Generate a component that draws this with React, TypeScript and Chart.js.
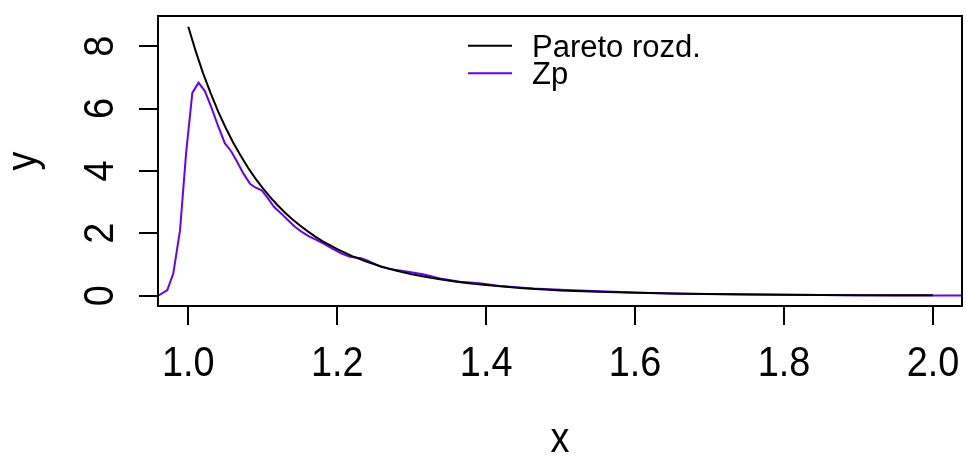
import React, { useEffect, useRef } from "react";
import { Chart, registerables } from "chart.js";

Chart.register(...registerables);

// Pareto density
const paretoX = [1.0, 1.01, 1.02, 1.03, 1.04, 1.05, 1.06, 1.07, 1.08, 1.09, 1.1, 1.11, 1.12, 1.13, 1.14, 1.15, 1.16, 1.17, 1.18, 1.19, 1.2, 1.22, 1.24, 1.26, 1.28, 1.3, 1.32, 1.34, 1.36, 1.38, 1.4, 1.45, 1.5, 1.55, 1.6, 1.65, 1.7, 1.8, 1.9, 2.0];
const paretoY = [8.62, 7.83, 7.12, 6.49, 5.91, 5.39, 4.92, 4.5, 4.11, 3.76, 3.45, 3.16, 2.9, 2.66, 2.44, 2.25, 2.07, 1.9, 1.75, 1.62, 1.49, 1.27, 1.09, 0.93, 0.8, 0.69, 0.6, 0.52, 0.45, 0.39, 0.34, 0.24, 0.17, 0.13, 0.094, 0.07, 0.052, 0.03, 0.018, 0.011];

const zpX = [0.9597, 0.9718, 0.9799, 0.9889, 0.997, 1.0054, 1.0137, 1.0224, 1.0312, 1.04, 1.049, 1.0575, 1.065, 1.0739, 1.0829, 1.09, 1.0986, 1.107, 1.115, 1.125, 1.134, 1.143, 1.153, 1.162, 1.172, 1.183, 1.194, 1.206, 1.217, 1.232, 1.241, 1.257, 1.27, 1.297, 1.315, 1.338, 1.365, 1.391, 1.418, 1.463, 1.508, 1.552, 1.6, 1.66, 1.75, 1.85, 1.95, 2.039];
const zpY = [0.0, 0.18, 0.72, 2.1, 4.56, 6.5, 6.83, 6.55, 6.02, 5.44, 4.89, 4.63, 4.32, 3.92, 3.59, 3.47, 3.38, 3.12, 2.85, 2.63, 2.42, 2.21, 2.04, 1.9, 1.79, 1.65, 1.5, 1.35, 1.25, 1.2, 1.12, 0.94, 0.86, 0.76, 0.69, 0.55, 0.45, 0.4, 0.31, 0.23, 0.18, 0.14, 0.1, 0.06, 0.035, 0.02, 0.01, 0.005];

const xTicks = [1.0, 1.2, 1.4, 1.6, 1.8, 2.0];
const xTickLabels = ["1.0", "1.2", "1.4", "1.6", "1.8", "2.0"];
const yTicks = [0, 2, 4, 6, 8];
const yTickLabels = ["0", "2", "4", "6", "8"];
const seriesNames = ["Pareto rozd.", "Zp"];
const seriesColors = ["#000000", "#6400FF"];
const xTitle = "x";
const yTitle = "y";

const FONT = '"Liberation Sans", Arial, Helvetica, sans-serif';

const rPlot = {
  id: "rPlot",
  afterDraw(chart: any) {
    const ctx = chart.ctx as CanvasRenderingContext2D;
    const a = chart.chartArea;
    const xs = chart.scales.x;
    const ys = chart.scales.y;
    ctx.save();
    ctx.strokeStyle = "#000";
    ctx.fillStyle = "#000";
    ctx.lineWidth = 2;
    // box
    ctx.strokeRect(a.left, a.top, a.right - a.left, a.bottom - a.top);
    const tickLen = 19;
    // x ticks
    ctx.beginPath();
    xTicks.forEach((v) => {
      const px = Math.round(xs.getPixelForValue(v));
      ctx.moveTo(px, a.bottom);
      ctx.lineTo(px, a.bottom + tickLen);
    });
    // y ticks
    yTicks.forEach((v) => {
      const py = Math.round(ys.getPixelForValue(v));
      ctx.moveTo(a.left, py);
      ctx.lineTo(a.left - tickLen, py);
    });
    ctx.stroke();

    const axFont = `43px ${FONT}`;
    const sx = 0.88;
    ctx.font = axFont;
    ctx.textAlign = "center";
    ctx.textBaseline = "alphabetic";
    xTicks.forEach((v, i) => {
      const px = xs.getPixelForValue(v);
      ctx.save();
      ctx.translate(px, 376);
      ctx.scale(sx, 1);
      ctx.fillText(xTickLabels[i], 0, 0);
      ctx.restore();
    });
    yTicks.forEach((v, i) => {
      const py = ys.getPixelForValue(v);
      ctx.save();
      ctx.translate(113, py);
      ctx.rotate(-Math.PI / 2);
      ctx.scale(sx, 1);
      ctx.fillText(yTickLabels[i], 0, 0);
      ctx.restore();
    });
    // axis titles
    ctx.save();
    ctx.translate((a.left + a.right) / 2, 452);
    ctx.scale(sx, 1);
    ctx.fillText(xTitle, 0, 0);
    ctx.restore();
    ctx.save();
    ctx.translate(36, (a.top + a.bottom) / 2);
    ctx.rotate(-Math.PI / 2);
    ctx.scale(sx, 1);
    ctx.fillText(yTitle, 0, 0);
    ctx.restore();

    // legend
    const legLineX0 = 468;
    const legLineX1 = 512;
    const legTextX = 532;
    const legY = [45.7, 73.3];
    ctx.font = `31px ${FONT}`;
    ctx.textAlign = "left";
    seriesNames.forEach((name, i) => {
      ctx.strokeStyle = seriesColors[i];
      ctx.lineWidth = 2;
      ctx.beginPath();
      ctx.moveTo(legLineX0, legY[i]);
      ctx.lineTo(legLineX1, legY[i]);
      ctx.stroke();
      ctx.fillStyle = "#000";
      ctx.fillText(name, legTextX, legY[i] + 11);
    });
    ctx.restore();
  },
};

export default function App() {
  const ref = useRef<HTMLCanvasElement | null>(null);
  useEffect(() => {
    if (!ref.current) return;
    const chart = new Chart(ref.current, {
      type: "line",
      data: {
        datasets: [
          {
            label: seriesNames[0],
            data: paretoX.map((x, i) => ({ x, y: paretoY[i] })),
            borderColor: seriesColors[0],
            borderWidth: 2,
            pointRadius: 0,
            tension: 0,
            fill: false,
          },
          {
            label: seriesNames[1],
            data: zpX.map((x, i) => ({ x, y: zpY[i] })),
            borderColor: seriesColors[1],
            borderWidth: 2,
            pointRadius: 0,
            tension: 0,
            fill: false,
          },
        ],
      },
      options: {
        responsive: false,
        animation: false,
        events: [],
        layout: { padding: { left: 158, right: 4, top: 16, bottom: 151 } },
        plugins: { legend: { display: false }, tooltip: { enabled: false }, title: { display: false } },
        scales: {
          x: { type: "linear", min: 0.9593, max: 2.039, display: false },
          y: { type: "linear", min: -0.33, max: 8.965, display: false },
        },
      },
      plugins: [rPlot],
    });
    return () => chart.destroy();
  }, []);
  return (
    <div style={{ position: "absolute", left: 0, top: 0, width: 966, height: 457, background: "#fff" }}>
      <canvas ref={ref} width={966} height={457} style={{ display: "block" }} />
    </div>
  );
}
